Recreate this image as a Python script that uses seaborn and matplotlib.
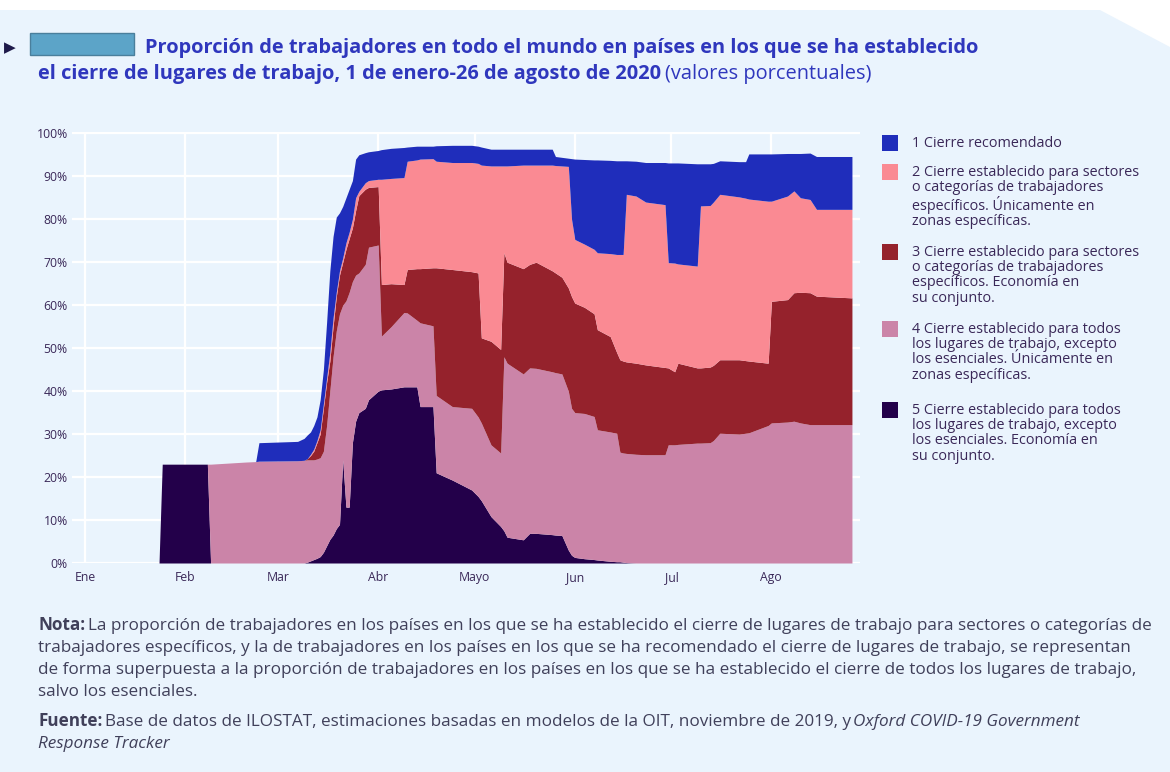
import matplotlib
matplotlib.use("Agg")
import matplotlib.pyplot as plt
from matplotlib.patches import Polygon, Rectangle
import pandas as pd
import seaborn as sns

# dates of the readings (2020)
dates = [
    "2020-01-01", "2020-01-24", "2020-01-25", "2020-02-08", "2020-02-09", "2020-02-20",
    "2020-02-23", "2020-02-24", "2020-03-07", "2020-03-09", "2020-03-10", "2020-03-11",
    "2020-03-12", "2020-03-13", "2020-03-14", "2020-03-15", "2020-03-16", "2020-03-17",
    "2020-03-18", "2020-03-19", "2020-03-20", "2020-03-21", "2020-03-22", "2020-03-23",
    "2020-03-24", "2020-03-25", "2020-03-26", "2020-03-28", "2020-03-29", "2020-04-01",
    "2020-04-02", "2020-04-05", "2020-04-09", "2020-04-10", "2020-04-13", "2020-04-14",
    "2020-04-18", "2020-04-19", "2020-04-24", "2020-04-30", "2020-05-02", "2020-05-03",
    "2020-05-06", "2020-05-09", "2020-05-10", "2020-05-11", "2020-05-16", "2020-05-18",
    "2020-05-20", "2020-05-25", "2020-05-26", "2020-05-28", "2020-05-30", "2020-05-31",
    "2020-06-01", "2020-06-04", "2020-06-07", "2020-06-08", "2020-06-12", "2020-06-14",
    "2020-06-15", "2020-06-16", "2020-06-17", "2020-06-20", "2020-06-23", "2020-06-29",
    "2020-06-30", "2020-07-02", "2020-07-03", "2020-07-09", "2020-07-10", "2020-07-13",
    "2020-07-14", "2020-07-16", "2020-07-22", "2020-07-24", "2020-07-25", "2020-07-31",
    "2020-08-01", "2020-08-06", "2020-08-08", "2020-08-10", "2020-08-13", "2020-08-15",
    "2020-08-26",
]

# 5 Cierre de todos los lugares salvo esenciales, economia en su conjunto
todos_total = [
    0, 0, 23, 23, 0, 0, 0, 0, 0, 0, 0.2, 0.5, 0.8, 1.1, 1.5, 2.5, 4, 5.5, 6.5, 8, 9, 24,
    13, 13, 28, 33, 35, 36, 38, 40, 40.3, 40.5, 41, 41, 41, 36.4, 36.4, 21, 19.3, 17, 15.5,
    14.5, 10.8, 8.5, 7.5, 6, 5.4, 6.9, 6.9, 6.6, 6.5, 6.4, 3, 1.8, 1.3, 1, 0.8, 0.7, 0.4,
    0.3, 0.3, 0.2, 0.1, 0, 0, 0, 0, 0, 0, 0, 0, 0, 0, 0, 0, 0, 0, 0, 0, 0, 0, 0, 0, 0, 0,
]
# 4 Cierre de todos los lugares salvo esenciales, solo zonas especificas
todos_zonas = [
    0, 0, 0, 0, 23, 23.5, 23.6, 23.7, 23.8, 23.9, 23.8, 23.5, 23.2, 23.1, 23, 23.5, 28,
    34.5, 41.5, 46, 49, 36, 48, 50, 37.5, 34, 32.5, 33.5, 35.5, 34, 12.5, 14.5, 17.3, 17.2,
    15.5, 19.5, 18.8, 18, 17.1, 19, 18.5, 18.1, 16.7, 17.1, 40.5, 40.5, 38.6, 38.5, 38.4,
    37.9, 37.8, 37.6, 37, 34.2, 33.7, 33.8, 33.3, 30.3, 30.1, 29.9, 25.5, 25.4, 25.4, 25.3,
    25.2, 25.2, 27.5, 27.5, 27.6, 27.9, 27.9, 28, 28.5, 30.2, 30, 30.2, 30.3, 32, 32.6, 32.8,
    33, 32.6, 32.2, 32.2, 32.2,
]
# 3 Cierre para sectores o categorias, economia en su conjunto
sectores_total = [
    0, 0, 0, 0, 0, 0, 0, 0, 0, 0, 0.3, 1, 2, 3.8, 5.5, 10, 10, 7, 7, 8, 9, 10, 12, 12.5,
    12.5, 15, 18, 17.5, 13.9, 13.6, 12, 10, 6.5, 10.1, 12, 12.6, 13.5, 29.7, 31.9, 31.8,
    33.5, 19.8, 24.1, 24.1, 24.2, 23.5, 24.5, 24.1, 24.7, 23.5, 23.2, 22.5, 24, 26, 25.5,
    24.7, 23.9, 23.3, 22.2, 18.8, 21.5, 21.4, 21.3, 21.2, 20.9, 20.3, 17.9, 17, 18.9, 17.5,
    17.5, 17.6, 17.5, 17.1, 17.3, 16.9, 16.7, 14.5, 28.3, 28.5, 29.9, 30.4, 30.7, 29.9, 29.5,
]
# 2 Cierre para sectores o categorias, solo zonas especificas
sectores_zonas = [
    0, 0, 0, 0, 0, 0, 0, 0, 0, 0, 0, 0.3, 0.5, 0.5, 1, 1, 1, 2, 2, 1, 1, 1, 1.5, 1.5, 2, 3,
    1, 1.5, 1.6, 1.7, 24.5, 24.5, 24.9, 25.2, 25.3, 25.5, 25.4, 24.8, 24.9, 25.4, 25.5, 40.2,
    40.8, 42.7, 20.2, 22.4, 24.1, 23.1, 22.6, 24.6, 25, 25.9, 28.3, 18, 14.8, 14.7, 15, 17.9,
    19.3, 22.8, 24.5, 24.8, 39, 38.9, 37.9, 37.9, 24.5, 25.3, 23.1, 23.7, 37.7, 37.6, 38,
    38.5, 37.9, 37.8, 37.7, 37.7, 23.3, 24.1, 23.7, 22, 21.7, 20.2, 20.6,
]
# 1 Cierre recomendado
recomendado = [
    0, 0, 0, 0, 0, 0, 0, 4.3, 4.5, 5.1, 5.5, 5.2, 5.5, 5.5, 7, 8, 13, 19, 19, 17.5, 13.5,
    12, 10.5, 10, 9, 9, 8.5, 7, 6.7, 6.7, 6.9, 7, 7, 3.3, 3.2, 3, 2.9, 3.6, 4, 4, 4, 4.2,
    3.9, 3.9, 3.9, 3.9, 3.7, 3.7, 3.7, 3.7, 2.1, 2, 1.9, 14.1, 18.7, 19.7, 20.8, 21.6, 21.7,
    21.8, 21.8, 21.8, 7.8, 8.1, 9.2, 9.8, 23.2, 23.3, 23.5, 23.8, 9.8, 9.7, 9, 7.8, 8.2, 8.5,
    10.5, 11, 11, 9.9, 8.7, 10.3, 10.8, 12.3, 12.3,
]

legend_labels = [
    "1 Cierre recomendado",
    "2 Cierre establecido para sectores\no categorías de trabajadores\nespecíficos. Únicamente en\nzonas específicas.",
    "3 Cierre establecido para sectores\no categorías de trabajadores\nespecíficos. Economía en\nsu conjunto.",
    "4 Cierre establecido para todos\nlos lugares de trabajo, excepto\nlos esenciales. Únicamente en\nzonas específicas.",
    "5 Cierre establecido para todos\nlos lugares de trabajo, excepto\nlos esenciales. Economía en\nsu conjunto.",
]
colors = ["#1f2dbb", "#fa8a93", "#95222c", "#cb84a8", "#23004a"]
month_starts = ["2020-01-01", "2020-02-01", "2020-03-01", "2020-04-01",
                "2020-05-01", "2020-06-01", "2020-07-01", "2020-08-01"]
month_labels = ["Ene", "Feb", "Mar", "Abr", "Mayo", "Jun", "Jul", "Ago"]
ytick_values = [0, 10, 20, 30, 40, 50, 60, 70, 80, 90, 100]

df = pd.DataFrame({
    "fecha": pd.to_datetime(dates),
    "5": todos_total, "4": todos_zonas, "3": sectores_total,
    "2": sectores_zonas, "1": recomendado,
})

BG = "#eaf4fd"
TXT = "#3a2858"
W, H = 1170, 772

sns.set_theme(style="darkgrid", rc={"axes.facecolor": BG, "grid.color": "white",
                                    "grid.linewidth": 1.6})
plt.rcParams["font.family"] = ["Open Sans", "DejaVu Sans"]

fig = plt.figure(figsize=(W / 100, H / 100), dpi=100, facecolor="white")


def fx(x):
    return x / W


def fy(y):
    return 1 - y / H


# background panel with clipped corner
fig.patches.append(Polygon([(fx(0), fy(10)), (fx(1100), fy(10)), (fx(1170), fy(47)),
                            (fx(1170), fy(772)), (fx(0), fy(772))], closed=True,
                           transform=fig.transFigure, facecolor=BG, edgecolor="none", zorder=-5))

ax = fig.add_axes([fx(72), fy(563), fx(860 - 72), (563 - 132) / H])
ax.set_zorder(2)
ax.stackplot(df["fecha"], df["5"], df["4"], df["3"], df["2"], df["1"],
             colors=colors[::-1], linewidth=0)
ax.set_xlim(pd.Timestamp("2019-12-28"), pd.Timestamp("2020-08-28 12:00"))
ax.set_ylim(0, 100.3)
ax.set_xticks(pd.to_datetime(month_starts))
ax.set_xticklabels(month_labels)
ax.set_yticks(ytick_values)
ax.set_yticklabels([f"{v}%" for v in ytick_values])
ax.tick_params(axis="both", length=0, labelsize=8.8, colors=TXT)
ax.tick_params(axis="x", pad=6)
ax.tick_params(axis="y", pad=3)
ax.set_axisbelow(True)
for s in ax.spines.values():
    s.set_visible(False)

renderer = fig.canvas.get_renderer()


def put(x, y, parts, size, color, gap=0.3):
    for text, weight, style in parts:
        t = fig.text(fx(x), fy(y), text, fontsize=size, fontweight=weight,
                     fontstyle=style, color=color, va="baseline", ha="left")
        x += t.get_window_extent(renderer).width + size * gap


# title
fig.text(fx(4), fy(52), "▶", fontsize=11, color="#1e1a4a", family="DejaVu Sans", va="baseline")
fig.patches.append(Rectangle((fx(30), fy(55)), fx(104), 22 / H, transform=fig.transFigure,
                             facecolor="#5ca4c8", edgecolor="#4a7f9c", linewidth=1))
TITLE = "#2f37bd"
put(145, 53, [("Proporción de trabajadores en todo el mundo en países en los que se ha establecido",
               "bold", "normal")], 14.4, TITLE)
put(38, 79, [("el cierre de lugares de trabajo, 1 de enero-26 de agosto de 2020", "bold", "normal"),
             ("(valores porcentuales)", "normal", "normal")], 14.4, TITLE)

# legend
item_tops = [135, 164, 244, 321, 402]
for lab, col, top in zip(legend_labels, colors, item_tops):
    fig.patches.append(Rectangle((fx(882), fy(top + 16)), fx(16), 16 / H,
                                 transform=fig.transFigure, facecolor=col, edgecolor="none"))
    fig.text(fx(912), fy(top + 1), lab, fontsize=10.4, color=TXT, va="top",
             linespacing=1.02)

# notes
NOTE = "#40405a"
NS = 12.3
put(38, 630, [("Nota:", "bold", "normal"),
              ("La proporción de trabajadores en los países en los que se ha establecido el cierre de lugares de trabajo para sectores o categorías de",
               "normal", "normal")], NS, NOTE, 0.2)
put(38, 652, [("trabajadores específicos, y la de trabajadores en los países en los que se ha recomendado el cierre de lugares de trabajo, se representan",
               "normal", "normal")], NS, NOTE)
put(38, 674, [("de forma superpuesta a la proporción de trabajadores en los países en los que se ha establecido el cierre de todos los lugares de trabajo,",
               "normal", "normal")], NS, NOTE)
put(38, 696, [("salvo los esenciales.", "normal", "normal")], NS, NOTE)
put(38, 726, [("Fuente:", "bold", "normal"),
              ("Base de datos de ILOSTAT, estimaciones basadas en modelos de la OIT, noviembre de 2019, y",
               "normal", "normal"),
              ("Oxford COVID-19 Government", "normal", "italic")], NS, NOTE, 0.2)
put(38, 748, [("Response Tracker", "normal", "italic")], NS, NOTE)

fig.savefig("out.png", dpi=100, facecolor="white")
